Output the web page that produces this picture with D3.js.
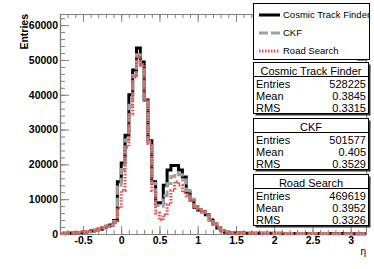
<!DOCTYPE html>
<html>
<head>
<meta charset="utf-8">
<script src="https://cdn.jsdelivr.net/npm/d3@7"></script>
<style>
  body { margin: 0; background: #fff; }
  svg { display: block; font-family: "Liberation Sans", Arial, sans-serif; }
  .axis .domain { stroke: #808080; stroke-width: 1.2; }
  .axis line { stroke: #808080; stroke-width: 1; }
  .axis text { font-size: 10.5px; font-weight: bold; fill: #000; }
  .stat text { font-size: 11px; fill: #000; }
  .leg text { font-size: 9.5px; fill: #000; }
</style>
</head>
<body>
<div id="chart"></div>
<script>
// bin lower edges from -0.8 in steps of 0.05 (80 bins up to 3.2)
var binWidth = 0.05;
var binStart = -0.8;

var ctf = [
  150, 200, 250, 300, 350, 450, 550, 700, 850, 1100, 1400, 1800, 2200, 2600, 3900, 15000,
  20400, 28400, 40000, 47100, 53400, 49400, 38500, 26800, 15000, 9000,
  9000, 14000, 18400, 19700, 19700, 18400, 16400, 12100, 9800, 7700,
  6900, 6400, 5500, 4000, 2900, 1700, 900, 500, 350, 300,
  280, 260, 250, 240, 230, 220, 210, 200, 200, 190, 180, 180, 170, 170, 160, 160, 150,
  150, 150, 140, 140, 130, 130, 130, 120, 120, 120, 110, 110, 110, 100, 100, 100, 100
];
var ckf = [
  150, 200, 250, 300, 350, 450, 550, 700, 850, 1100, 1400, 1800, 2200, 2700, 3600, 13500,
  18500, 27000, 37000, 45500, 51500, 48300, 38000, 26500, 14500, 8200,
  8000, 11000, 14500, 16500, 17500, 17000, 15500, 12500, 10000, 7900,
  6900, 6300, 5400, 4000, 2900, 1800, 1000, 600, 400, 300,
  260, 240, 230, 220, 210, 200, 190, 180, 180, 170, 160, 160, 150, 150, 140, 140, 130,
  130, 130, 120, 120, 110, 110, 110, 100, 100, 100, 90, 90, 90, 80, 80, 80, 80
];
var roadSearch = [
  150, 200, 250, 300, 400, 500, 600, 750, 950, 1200, 1500, 1900, 2300, 2800, 3200, 7500,
  12500, 25000, 34500, 45000, 51000, 48800, 38500, 26000, 12500, 6000,
  4000, 5500, 8500, 12500, 15000, 14000, 12000, 11000, 9600, 7900,
  7000, 6400, 5600, 4200, 3000, 1800, 1000, 600, 400, 300,
  250, 230, 220, 210, 200, 190, 180, 170, 170, 160, 150, 150, 140, 140, 130, 130, 120,
  120, 120, 110, 110, 100, 100, 100, 90, 90, 90, 80, 80, 80, 70, 70, 70, 70
];

var xTicks = [-0.5, 0, 0.5, 1, 1.5, 2, 2.5, 3];
var xTickLabels = ["-0.5", "0", "0.5", "1", "1.5", "2", "2.5", "3"];
var yTicks = [0, 10000, 20000, 30000, 40000, 50000, 60000];
var yTickLabels = ["0", "10000", "20000", "30000", "40000", "50000", "60000"];

var seriesNames = ["Cosmic Track Finder", "CKF", "Road Search"];
var statEntries = ["528225", "501577", "469619"];
var statMeans = ["0.3845", "0.405", "0.3952"];
var statRms = ["0.3315", "0.3529", "0.3326"];

var width = 374, height = 269;
var svg = d3.select("#chart").append("svg")
    .attr("width", width).attr("height", height);

var xScale = d3.scaleLinear().domain([-0.8, 3.2]).range([60, 366]);
var yScale = d3.scaleLinear().domain([0, 63200]).range([234, 14]);

// minor ticks first, then major ticks with labels
svg.append("g").attr("class", "axis").attr("transform", "translate(0,234)")
    .call(d3.axisBottom(xScale).ticks(40).tickSize(-4).tickSizeOuter(0).tickFormat(""));
svg.append("g").attr("class", "axis").attr("transform", "translate(0,234)")
    .call(d3.axisBottom(xScale).tickValues(xTicks).tickSize(-8).tickSizeOuter(0).tickPadding(3)
        .tickFormat(function(d, i) { return xTickLabels[i]; }));
svg.append("g").attr("class", "axis").attr("transform", "translate(0,14)")
    .call(d3.axisTop(xScale).ticks(40).tickSize(-4).tickSizeOuter(0).tickFormat(""));
svg.append("g").attr("class", "axis").attr("transform", "translate(0,14)")
    .call(d3.axisTop(xScale).tickValues(xTicks).tickSize(-8).tickSizeOuter(0).tickFormat(""));

svg.append("g").attr("class", "axis").attr("transform", "translate(60,0)")
    .call(d3.axisLeft(yScale).ticks(30).tickSize(-5).tickSizeOuter(0).tickFormat(""));
svg.append("g").attr("class", "axis").attr("transform", "translate(60,0)")
    .call(d3.axisLeft(yScale).tickValues(yTicks).tickSize(-9).tickSizeOuter(0).tickPadding(2)
        .tickFormat(function(d, i) { return yTickLabels[i]; }));
svg.append("g").attr("class", "axis").attr("transform", "translate(366,0)")
    .call(d3.axisRight(yScale).tickValues(yTicks).tickSize(-9).tickSizeOuter(0).tickFormat(""));

// axis titles
svg.append("text")
    .attr("transform", "translate(28,14) rotate(-90)")
    .attr("text-anchor", "end")
    .style("font-size", "10.5px").style("font-weight", "bold")
    .text("Entries");
svg.append("text")
    .attr("x", 366).attr("y", 255)
    .attr("text-anchor", "end")
    .style("font-size", "10px")
    .text("η");

// histogram outlines
function stepPath(values) {
    var p = d3.path();
    values.forEach(function(v, i) {
        var x0 = xScale(binStart + i * binWidth);
        var x1 = xScale(binStart + (i + 1) * binWidth);
        if (i == 0) p.moveTo(x0, yScale(v));
        else p.lineTo(x0, yScale(v));
        p.lineTo(x1, yScale(v));
    });
    return p.toString();
}

var styles = [
    {color: "#000000", dash: null},
    {color: "#a0a0a0", dash: "9,3"},
    {color: "#e4524b", dash: "1.5,1.5"}
];
[ctf, ckf, roadSearch].forEach(function(values, k) {
    svg.append("path")
        .attr("d", stepPath(values))
        .attr("fill", "none")
        .attr("stroke", styles[k].color)
        .attr("stroke-width", 3)
        .attr("stroke-dasharray", styles[k].dash);
});

// legend
var leg = svg.append("g").attr("class", "leg");
leg.append("rect").attr("x", 253.5).attr("y", 3.5).attr("width", 116).attr("height", 56)
    .attr("fill", "#fff").attr("stroke", "#000");
seriesNames.forEach(function(name, k) {
    var ly = 15 + k * 18;
    leg.append("line").attr("x1", 259).attr("x2", 280).attr("y1", ly).attr("y2", ly)
        .attr("stroke", styles[k].color).attr("stroke-width", 3)
        .attr("stroke-dasharray", styles[k].dash);
    leg.append("text").attr("x", 283).attr("y", ly).attr("dy", "0.35em").text(name);
});

// stat boxes
seriesNames.forEach(function(name, k) {
    var top = 62 + k * 56;
    var g = svg.append("g").attr("class", "stat");
    g.append("rect").attr("x", 255.5).attr("y", top + 2.5).attr("width", 115).attr("height", 51)
        .attr("fill", "#333");
    g.append("rect").attr("x", 253.5).attr("y", top + 0.5).attr("width", 115).attr("height", 51)
        .attr("fill", "#fff").attr("stroke", "#000");
    g.append("line").attr("x1", 253.5).attr("x2", 368.5).attr("y1", top + 14.5).attr("y2", top + 14.5)
        .attr("stroke", "#000");
    g.append("text").attr("x", 311).attr("y", top + 9).attr("dy", "0.35em")
        .attr("text-anchor", "middle").text(name);
    var rows = [["Entries", statEntries[k]], ["Mean", statMeans[k]], ["RMS", statRms[k]]];
    rows.forEach(function(r, j) {
        var ry = top + 22 + j * 12;
        g.append("text").attr("x", 256).attr("y", ry).attr("dy", "0.35em").text(r[0]);
        g.append("text").attr("x", 366).attr("y", ry).attr("dy", "0.35em")
            .attr("text-anchor", "end").text(r[1]);
    });
});
</script>
</body>
</html>
